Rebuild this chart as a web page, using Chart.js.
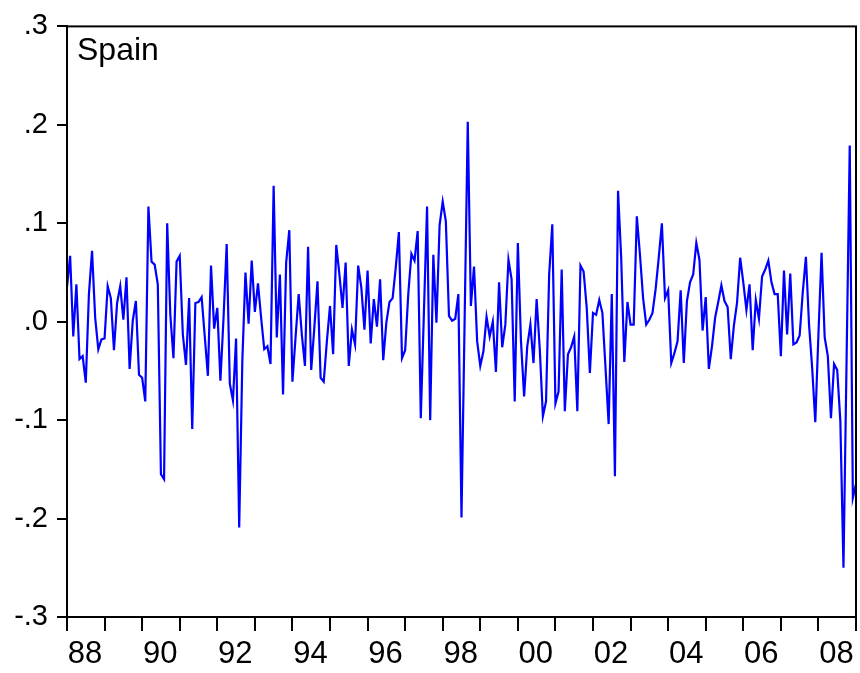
<!DOCTYPE html>
<html>
<head>
<meta charset="utf-8">
<script src="https://cdn.jsdelivr.net/npm/chart.js@4.4.1/dist/chart.umd.min.js"></script>
<style>
  html, body { margin: 0; padding: 0; background: #fff; }
  canvas { display: block; }
</style>
</head>
<body>
<canvas id="myChart" width="860" height="673"></canvas>
<script>
// monthly series, 1988M01 .. 2009M01
const firstYear = 1988;
const seriesName = "Spain";
const yearLabels = ["88", "90", "92", "94", "96", "98", "00", "02", "04", "06", "08"];
const yTicks = [-0.3, -0.2, -0.1, 0, 0.1, 0.2, 0.3];

const spain = [
  0.035, 0.067, -0.015, 0.038, -0.038, -0.035, -0.062, 0.028, 0.072, 0.004, -0.028, -0.018,   // 1988
  -0.017, 0.036, 0.024, -0.029, 0.019, 0.036, 0.002, 0.045, -0.048, 0.001, 0.021, -0.054,     // 1989
  -0.057, -0.081, 0.117, 0.061, 0.058, 0.038, -0.155, -0.160, 0.100, 0.007, -0.037, 0.061,    // 1990
  0.067, -0.013, -0.044, 0.024, -0.109, 0.019, 0.020, 0.025, -0.015, -0.055, 0.057, -0.007,   // 1991
  0.014, -0.060, 0.004, 0.079, -0.063, -0.080, -0.017, -0.209, -0.040, 0.050, -0.002, 0.062,  // 1992
  0.010, 0.039, 0.004, -0.028, -0.025, -0.043, 0.138, -0.016, 0.048, -0.074, 0.060, 0.093,    // 1993
  -0.061, -0.016, 0.028, -0.013, -0.045, 0.076, -0.049, -0.006, 0.041, -0.057, -0.061, -0.020,// 1994
  0.016, -0.033, 0.078, 0.048, 0.014, 0.060, -0.045, -0.008, -0.023, 0.057, 0.035, -0.008,    // 1995
  0.052, -0.022, 0.023, -0.005, 0.043, -0.039, -0.001, 0.020, 0.024, 0.055, 0.091, -0.037,    // 1996
  -0.029, 0.028, 0.069, 0.062, 0.092, -0.098, 0.010, 0.117, -0.100, 0.068, -0.001, 0.098,     // 1997
  0.122, 0.102, 0.006, 0.001, 0.003, 0.028, -0.199, 0.002, 0.203, 0.016, 0.056, -0.020,       // 1998
  -0.045, -0.030, 0.005, -0.015, 0.000, -0.051, 0.040, -0.026, -0.003, 0.063, 0.043, -0.081,  // 1999
  0.080, -0.020, -0.076, -0.025, -0.003, -0.042, 0.023, -0.028, -0.096, -0.081, 0.048, 0.099, // 2000
  -0.083, -0.071, 0.053, -0.091, -0.033, -0.026, -0.015, -0.091, 0.057, 0.051, 0.014, -0.052, // 2001
  0.009, 0.007, 0.022, 0.009, -0.047, -0.104, 0.028, -0.157, 0.133, 0.065, -0.041, 0.020,     // 2002
  -0.003, -0.003, 0.107, 0.068, 0.024, -0.003, 0.002, 0.009, 0.033, 0.065, 0.100, 0.024,      // 2003
  0.032, -0.042, -0.032, -0.020, 0.032, -0.042, 0.021, 0.040, 0.048, 0.080, 0.063, -0.009,    // 2004
  0.025, -0.048, -0.025, 0.004, 0.020, 0.037, 0.021, 0.015, -0.038, -0.004, 0.019, 0.065,     // 2005
  0.040, 0.012, 0.038, -0.029, 0.022, 0.003, 0.046, 0.053, 0.062, 0.040, 0.028, 0.028,        // 2006
  -0.035, 0.052, -0.013, 0.049, -0.023, -0.021, -0.014, 0.030, 0.066, -0.003, -0.047, -0.102, // 2007
  -0.013, 0.070, -0.016, -0.035, -0.098, -0.043, -0.049, -0.101, -0.250, -0.037, 0.179, -0.179, // 2008
  -0.165                                                                                       // 2009
];

const lastIdx = spain.length - 1;

function fmtY(v) {
  const s = Math.abs(v).toFixed(1).replace(/^0/, "");
  return (v < -1e-9 ? "-" : "") + s;
}

// box round the plot + series name inside it
const frame = {
  id: "frame",
  afterDraw(chart) {
    const a = chart.chartArea, c = chart.ctx;
    c.save();
    c.strokeStyle = "#000";
    c.lineWidth = 2;
    c.strokeRect(a.left, a.top, a.right - a.left, a.bottom - a.top);
    c.fillStyle = "#000";
    c.font = "32px 'Liberation Sans', Arial, sans-serif";
    c.textBaseline = "alphabetic";
    c.fillText(seriesName, a.left + 10, a.top + 34);
    c.restore();
  }
};

new Chart(document.getElementById("myChart"), {
  type: "line",
  data: {
    datasets: [{
      label: seriesName,
      data: spain.map((v, i) => ({ x: i, y: v })),
      borderColor: "#0000ff",
      borderWidth: 2.2,
      pointRadius: 0,
      tension: 0,
      fill: false
    }]
  },
  options: {
    responsive: false,
    animation: false,
    events: [],
    layout: { padding: { top: 24, right: 4, left: 0, bottom: 0 } },
    plugins: { legend: { display: false }, tooltip: { enabled: false } },
    scales: {
      x: {
        type: "linear",
        min: 0,
        max: lastIdx,
        afterBuildTicks: (s) => {
          s.ticks = [];
          for (let m = 0; m <= lastIdx; m += 12) s.ticks.push({ value: m });
        },
        afterFit: (s) => { s.height = 56; s.paddingLeft = 0; s.paddingRight = 0; },
        ticks: {
          autoSkip: false,
          maxRotation: 0,
          labelOffset: 18,
          padding: 5,
          color: "#000",
          font: { family: "'Liberation Sans', Arial, sans-serif", size: 31 },
          callback: (v) => (v % 24 === 0 && v < lastIdx) ? yearLabels[v / 24] : ""
        },
        grid: { drawOnChartArea: false, drawTicks: true, tickLength: 14, color: "#000", lineWidth: 2 },
        border: { display: true, color: "#000", width: 2 }
      },
      y: {
        min: -0.3,
        max: 0.3,
        afterBuildTicks: (s) => { s.ticks = yTicks.map(v => ({ value: v })); },
        afterFit: (s) => { s.width = 67; },
        ticks: {
          padding: 9,
          color: "#000",
          font: { family: "'Liberation Sans', Arial, sans-serif", size: 29 },
          callback: (v) => fmtY(v)
        },
        grid: { drawOnChartArea: false, drawTicks: true, tickLength: 10, color: "#000", lineWidth: 2 },
        border: { display: true, color: "#000", width: 2 }
      }
    }
  },
  plugins: [frame]
});
</script>
</body>
</html>
